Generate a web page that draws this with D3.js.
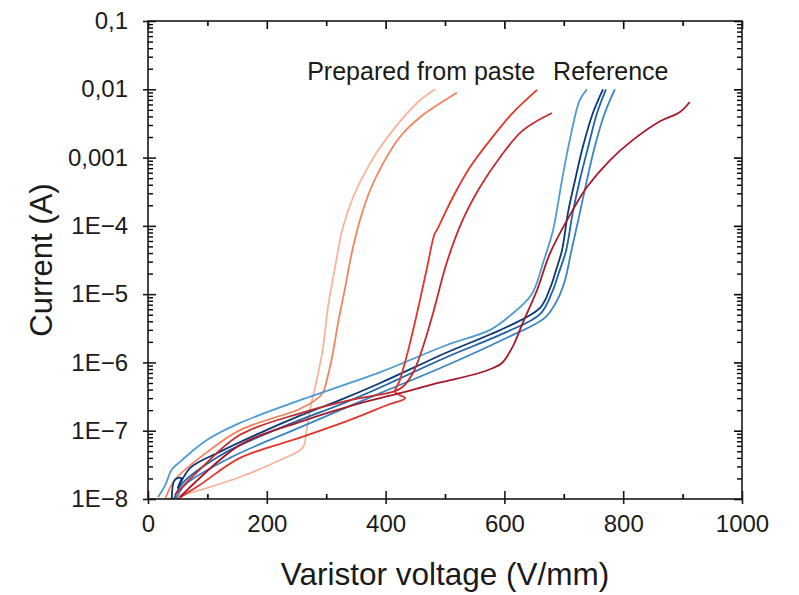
<!DOCTYPE html>
<html>
<head>
<meta charset="utf-8">
<script src="https://cdn.jsdelivr.net/npm/d3@7"></script>
<style>
  body { margin: 0; background: #fff; }
  svg text { font-family: "Liberation Sans", Arial, sans-serif; fill: #1a1a1a; }
</style>
</head>
<body>
<div id="chart"></div>
<script>
// varistor I-V curves, voltage in V/mm, current in A
var pasteA_V = [34, 87, 155, 222, 256, 263, 266, 271, 278, 284, 295, 303, 315, 327, 345, 374, 412, 453, 483];
var pasteA_I = [1.0e-8, 1.35e-8, 2.1e-8, 3.7e-8, 5.2e-8, 6.2e-8, 8.7e-8, 1.7e-7, 3.3e-7, 5.5e-7, 1.7e-6, 6.5e-6, 2.5e-5, 8.7e-5, 2.6e-4, 8.3e-4, 2.5e-3, 6.3e-3, 1.0e-2];

var pasteB_V = [29, 45, 104, 155, 256, 286, 295, 301, 310, 320, 332, 343, 357, 374, 396, 424, 458, 520];
var pasteB_I = [1.0e-8, 1.9e-8, 5.2e-8, 1.02e-7, 2.1e-7, 3.0e-7, 3.7e-7, 5.5e-7, 1.2e-6, 3.8e-6, 1.26e-5, 4.0e-5, 1.23e-4, 3.35e-4, 8.3e-4, 2.0e-3, 3.9e-3, 8.9e-3];

var pasteC_V = [50, 87, 155, 256, 340, 404, 433, 416, 424, 438, 453, 470, 482, 487, 513, 542, 576, 614, 655];
var pasteC_I = [1.0e-8, 1.6e-8, 4.0e-8, 7.9e-8, 1.44e-7, 2.4e-7, 3.0e-7, 3.7e-7, 5.5e-7, 1.5e-6, 5.3e-6, 2.5e-5, 7.4e-5, 8.9e-5, 2.6e-4, 7.2e-4, 1.8e-3, 4.5e-3, 9.8e-3];

var pasteD_V = [45, 87, 155, 256, 340, 416, 429, 446, 463, 480, 503, 530, 559, 593, 631, 680];
var pasteD_I = [1.15e-8, 2.7e-8, 8.7e-8, 1.8e-7, 2.8e-7, 3.8e-7, 4.4e-7, 7.0e-7, 1.7e-6, 5.3e-6, 2.9e-5, 1.23e-4, 3.7e-4, 1.02e-3, 2.5e-3, 4.5e-3];

var pasteE_V = [54, 155, 256, 340, 424, 492, 547, 581, 596, 614, 631, 655, 677, 715, 739, 778, 816, 862, 895, 912];
var pasteE_I = [1.07e-8, 6.2e-8, 1.35e-7, 2.3e-7, 3.55e-7, 5.1e-7, 6.6e-7, 8.3e-7, 9.8e-7, 1.7e-6, 3.8e-6, 1.15e-5, 4.0e-5, 1.7e-4, 3.7e-4, 9.2e-4, 1.8e-3, 3.4e-3, 4.6e-3, 6.5e-3];

var refA_V = [17, 29, 40, 54, 99, 155, 256, 391, 503, 576, 609, 646, 665, 672, 682, 697, 710, 727, 739];
var refA_I = [1.07e-8, 1.6e-8, 2.7e-8, 3.5e-8, 7.3e-8, 1.3e-7, 2.8e-7, 7.2e-7, 1.8e-6, 3.0e-6, 4.8e-6, 1.0e-5, 2.85e-5, 4.4e-5, 8.7e-5, 4.7e-4, 1.8e-3, 7.0e-3, 1.0e-2];

var refB_V = [40, 45, 56, 50, 71, 121, 189, 256, 323, 391, 503, 604, 660, 677, 687, 697, 707, 719, 732, 749, 766];
var refB_I = [1.0e-8, 1.9e-8, 2.04e-8, 1.45e-8, 2.85e-8, 4.9e-8, 9.3e-8, 1.66e-7, 2.8e-7, 5.0e-7, 1.4e-6, 3.3e-6, 6.3e-6, 1.23e-5, 2.26e-5, 4.4e-5, 1.55e-4, 4.7e-4, 1.43e-3, 4.5e-3, 1.0e-2];

var refC_V = [44, 57, 121, 189, 256, 323, 391, 503, 604, 660, 680, 692, 704, 715, 727, 741, 756, 771];
var refC_I = [1.0e-8, 1.66e-8, 4.3e-8, 8.3e-8, 1.44e-7, 2.4e-7, 4.3e-7, 1.2e-6, 2.8e-6, 5.1e-6, 1.05e-5, 2.1e-5, 4.4e-5, 1.55e-4, 4.7e-4, 1.43e-3, 4.5e-3, 1.0e-2];

var refD_V = [47, 62, 138, 256, 391, 503, 604, 668, 689, 702, 713, 727, 739, 752, 769, 786];
var refD_I = [1.0e-8, 1.6e-8, 4.0e-8, 1.12e-7, 3.55e-7, 9.1e-7, 2.3e-6, 4.5e-6, 8.2e-6, 1.6e-5, 4.4e-5, 1.55e-4, 4.7e-4, 1.43e-3, 4.5e-3, 1.0e-2];

var xTicks = [0, 200, 400, 600, 800, 1000];
var xMinor = [100, 300, 500, 700, 900];
var yTicks = [1e-8, 1e-7, 1e-6, 1e-5, 1e-4, 1e-3, 1e-2, 1e-1];
var yLabels = ["1E\u22128", "1E\u22127", "1E\u22126", "1E\u22125", "1E\u22124", "0,001", "0,01", "0,1"];

var groupNames = ["Prepared from paste", "Reference"];
var groupAt_V = [268, 682];
var groupAt_I = [0.0137, 0.0137];

var series = [
  { V: pasteA_V, I: pasteA_I, color: "#f9b49b" },
  { V: pasteB_V, I: pasteB_I, color: "#f2845f" },
  { V: refA_V, I: refA_I, color: "#4f9bd1" },
  { V: refD_V, I: refD_I, color: "#3a86c4" },
  { V: refC_V, I: refC_I, color: "#1f62a8" },
  { V: refB_V, I: refB_I, color: "#0c3876" },
  { V: pasteC_V, I: pasteC_I, color: "#e2352c" },
  { V: pasteD_V, I: pasteD_I, color: "#c52a2f" },
  { V: pasteE_V, I: pasteE_I, color: "#a8182a" }
];

var W = 799, H = 595;
var margin = { top: 21, right: 57, bottom: 96, left: 148 };
var w = W - margin.left - margin.right;
var h = H - margin.top - margin.bottom;

var svg = d3.select("#chart").append("svg").attr("width", W).attr("height", H);

var xScale = d3.scaleLinear().domain([0, 1000]).range([margin.left, margin.left + w]);
var yScale = d3.scaleLog().domain([1e-8, 0.1]).range([margin.top + h, margin.top]);

// minor log ticks
var yMinor = [];
for (var k = -8; k < -1; k++) {
  for (var m = 2; m <= 9; m++) yMinor.push(m * Math.pow(10, k));
}

var line = d3.line()
  .x(function (d) { return xScale(d[0]); })
  .y(function (d) { return yScale(d[1]); })
  .curve(d3.curveCatmullRom.alpha(0.5));

series.forEach(function (s) {
  var pts = s.V.map(function (v, i) { return [v, s.I[i]]; });
  svg.append("path")
    .attr("d", line(pts))
    .attr("fill", "none")
    .attr("stroke", s.color)
    .attr("stroke-width", 1.8)
    .attr("stroke-linejoin", "round");
});

var bottom = margin.top + h, right = margin.left + w;

// bottom axis
svg.append("g").attr("transform", "translate(0," + bottom + ")")
  .call(d3.axisBottom(xScale).tickValues(xTicks).tickFormat(function (d) { return d; }).tickSize(0).tickPadding(16))
  .call(function (g) {
    g.select(".domain").remove();
    g.selectAll(".tick line").attr("y1", 5).attr("y2", -8).attr("stroke", "#1a1a1a").attr("stroke-width", 1.6);
    g.selectAll(".tick text").attr("font-size", 24).attr("fill", "#1a1a1a");
  });
svg.append("g").attr("transform", "translate(0," + bottom + ")")
  .call(d3.axisBottom(xScale).tickValues(xMinor).tickFormat("").tickSize(-5))
  .call(function (g) { g.select(".domain").remove(); g.selectAll("line").attr("stroke-width", 1.6); });

// top axis
svg.append("g").attr("transform", "translate(0," + margin.top + ")")
  .call(d3.axisTop(xScale).tickValues(xTicks).tickFormat("").tickSize(-8))
  .call(function (g) { g.select(".domain").remove(); g.selectAll("line").attr("stroke-width", 1.6); });
svg.append("g").attr("transform", "translate(0," + margin.top + ")")
  .call(d3.axisTop(xScale).tickValues(xMinor).tickFormat("").tickSize(-5))
  .call(function (g) { g.select(".domain").remove(); g.selectAll("line").attr("stroke-width", 1.6); });

// left axis
svg.append("g").attr("transform", "translate(" + margin.left + ",0)")
  .call(d3.axisLeft(yScale).tickValues(yTicks).tickFormat(function (d, i) { return yLabels[i]; }).tickSize(0).tickPadding(20))
  .call(function (g) {
    g.select(".domain").remove();
    g.selectAll(".tick line").attr("x1", -5).attr("x2", 8).attr("stroke", "#1a1a1a").attr("stroke-width", 1.6);
    g.selectAll(".tick text").attr("font-size", 24).attr("fill", "#1a1a1a");
  });
svg.append("g").attr("transform", "translate(" + margin.left + ",0)")
  .call(d3.axisLeft(yScale).tickValues(yMinor).tickFormat("").tickSize(-5))
  .call(function (g) { g.select(".domain").remove(); g.selectAll("line").attr("stroke-width", 1.4); });

// right axis
svg.append("g").attr("transform", "translate(" + right + ",0)")
  .call(d3.axisRight(yScale).tickValues(yTicks).tickFormat("").tickSize(-8))
  .call(function (g) { g.select(".domain").remove(); g.selectAll("line").attr("stroke-width", 1.6); });
svg.append("g").attr("transform", "translate(" + right + ",0)")
  .call(d3.axisRight(yScale).tickValues(yMinor).tickFormat("").tickSize(-5))
  .call(function (g) { g.select(".domain").remove(); g.selectAll("line").attr("stroke-width", 1.4); });

// frame
svg.append("rect")
  .attr("x", margin.left).attr("y", margin.top)
  .attr("width", w).attr("height", h)
  .attr("fill", "none").attr("stroke", "#1a1a1a").attr("stroke-width", 1.6);

// group labels
groupNames.forEach(function (name, i) {
  svg.append("text")
    .attr("x", xScale(groupAt_V[i]))
    .attr("y", yScale(groupAt_I[i]))
    .attr("font-size", 25)
    .text(name);
});

// axis titles
svg.append("text")
  .attr("x", margin.left + w / 2).attr("y", 585)
  .attr("text-anchor", "middle").attr("font-size", 31.5)
  .text("Varistor voltage (V/mm)");

svg.append("text")
  .attr("transform", "translate(52," + (margin.top + h / 2) + ") rotate(-90)")
  .attr("text-anchor", "middle").attr("font-size", 31)
  .text("Current (A)");
</script>
</body>
</html>
